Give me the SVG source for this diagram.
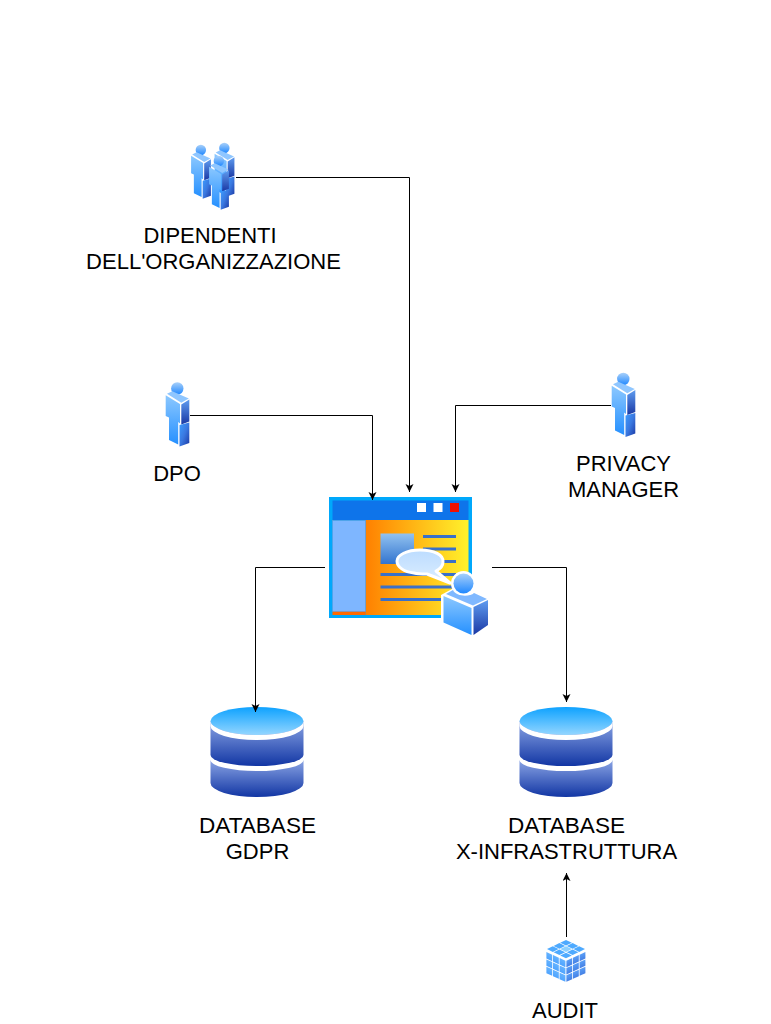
<svg xmlns="http://www.w3.org/2000/svg" xmlns:xlink="http://www.w3.org/1999/xlink" width="771" height="1024" viewBox="0 0 771 1024">
<style>
text{font-family:"Liberation Sans",Arial,sans-serif;font-size:22px;fill:#000;text-anchor:middle}
.c{fill:none;stroke:#000;stroke-width:1}
.ln{fill:#3a70c8}
.w{stroke:#fff;stroke-linejoin:round}
</style>
<defs>
<marker id="a" markerUnits="userSpaceOnUse" markerWidth="10" markerHeight="10" refX="8" refY="4" orient="auto"><path d="M0,0L8,4L0,8L2,4Z" fill="#000"/></marker>
<linearGradient id="pf" x1="0" y1="0" x2="0" y2="1"><stop offset="0" stop-color="#8cc8ff"/><stop offset="1" stop-color="#2590ff"/></linearGradient>
<linearGradient id="ph" x1="0" y1="0" x2="0" y2="1"><stop offset="0" stop-color="#a8d0fa"/><stop offset="1" stop-color="#2088ff"/></linearGradient>
<linearGradient id="ps" x1="0" y1="0" x2="0" y2="1"><stop offset="0" stop-color="#5f9cf0"/><stop offset="1" stop-color="#1a38a4"/></linearGradient>
<linearGradient id="pl" x1="0" y1="0" x2="1" y2="1"><stop offset="0" stop-color="#3c9cff"/><stop offset=".5" stop-color="#3a78e0"/><stop offset="1" stop-color="#1a38a4"/></linearGradient>
<linearGradient id="dt" x1="0" y1="0" x2="0" y2="1"><stop offset="0" stop-color="#0ea2ff"/><stop offset="1" stop-color="#94d6ff"/></linearGradient>
<linearGradient id="db" x1="0" y1="0" x2="0" y2="1"><stop offset="0" stop-color="#8aa4e4"/><stop offset="1" stop-color="#1236a4"/></linearGradient>
<linearGradient id="yo" x1="0" y1="0" x2="1" y2="0"><stop offset="0" stop-color="#ff8000"/><stop offset="1" stop-color="#fff22c"/></linearGradient>
<linearGradient id="im" x1="0" y1="0" x2="0" y2="1"><stop offset="0" stop-color="#92c2f0"/><stop offset="1" stop-color="#3274cf"/></linearGradient>
<linearGradient id="bb" x1="0" y1="0" x2="0" y2="1"><stop offset="0" stop-color="#bcdcff"/><stop offset="1" stop-color="#dceeff"/></linearGradient>
<linearGradient id="cl" gradientUnits="userSpaceOnUse" x1="0" y1="0" x2="0" y2="3"><stop offset="0" stop-color="#66b4ff"/><stop offset="1" stop-color="#1c80ff"/></linearGradient>
<linearGradient id="cr" gradientUnits="userSpaceOnUse" x1="0" y1="0" x2="0" y2="3"><stop offset="0" stop-color="#5aa0f8"/><stop offset="1" stop-color="#1a3cb8"/></linearGradient>
<g id="person">
<circle cx="12.3" cy="6" r="6.2" fill="url(#ph)"/>
<path d="M2,11.3L7.3,8.7L23.8,16L16.3,20.3Z" fill="#8fc6ff"/>
<path d="M.7,12.7L15,21.5V41L13.200,39.500V62L4,57.500V35L.7,33.500Z" fill="url(#pf)"/>
<path d="M16.3,22L24.3,17V39L16.3,42Z" fill="url(#ps)"/>
<path d="M14.500,42.500L24.300,40V60.500L14.500,64Z" fill="url(#pl)"/>
</g>
<g id="cyl">
<path d="M0,14V48a46.500,11 0 0 0 93,0V14Z" fill="url(#db)"/>
<path d="M0,53a46.500,11 0 0 0 93,0V76a46.500,14 0 0 1 -93,0Z" fill="url(#db)"/>
<ellipse cx="46.500" cy="14" rx="46.500" ry="14" fill="url(#dt)"/>
<path d="M0,14a46.500,14 0 0 0 93,0v5a46.500,14 0 0 1 -93,0Z" fill="#fff"/>
</g>
<rect id="cell" x=".06" y=".06" width=".88" height=".88"/>
</defs>

<g id="dipendenti">
<use xlink:href="#person" href="#person" transform="translate(214,143) scale(.84)"/>
<use xlink:href="#person" href="#person" transform="translate(190.500,145) scale(.84)"/>
<use xlink:href="#person" href="#person" transform="translate(208.500,156) scale(.84)"/>
<text x="210" y="243">DIPENDENTI</text>
<text x="213.500" y="269">DELL'ORGANIZZAZIONE</text>
</g>
<g id="dpo">
<use xlink:href="#person" href="#person" transform="translate(165,382.500)"/>
<text x="177" y="481">DPO</text>
</g>
<g id="privacy-manager">
<use xlink:href="#person" href="#person" transform="translate(611,373)"/>
<text x="623.500" y="471">PRIVACY</text>
<text x="623.500" y="497">MANAGER</text>
</g>

<g id="app">
<rect x="329" y="497" width="143" height="121" fill="#00a8fb"/>
<rect x="365.500" y="520" width="103" height="95" fill="url(#yo)"/>
<rect x="332.500" y="500.500" width="136" height="19.500" fill="#0e74ea"/>
<rect x="332.500" y="611" width="33" height="4" fill="#ff6a00"/>
<rect x="332.500" y="520.500" width="33" height="91" fill="#7eb6ff" stroke="#5f9ad8" stroke-width=".5"/>
<rect x="417" y="503" width="9" height="9" fill="#fff"/>
<rect x="433.500" y="503" width="9" height="9" fill="#fff"/>
<rect x="450" y="503" width="9" height="9" fill="#f01000"/>
<rect x="380.500" y="533.500" width="33.500" height="30.500" fill="url(#im)"/>
<rect class="ln" x="423" y="535" width="33" height="3"/>
<rect class="ln" x="423" y="547.500" width="33" height="3"/>
<rect class="ln" x="423" y="560" width="33" height="3"/>
<rect class="ln" x="380.500" y="573" width="75.500" height="3"/>
<rect class="ln" x="380.500" y="585.500" width="75.500" height="3"/>
<rect class="ln" x="380.500" y="598" width="75.500" height="3"/>
<path class="w" stroke-width="3" fill="url(#bb)" d="M420,550C434,550 444,555 443,562C443,566 440,569 436,571L450,583L427,574C422,574 418,574 414,573C404,572 397,567 397,561C397,555 407,550 420,550Z"/>
<path fill="#fff" d="M441,595L452,589H474L490,598.500V626L473,637L441,623Z"/>
<circle cx="463.500" cy="583.500" r="12.500" fill="#fff"/>
<circle cx="463.500" cy="583.500" r="10" fill="url(#ph)"/>
<path d="M446,594L453,590C456,597 470,597 474,593L487,599L473,605.500Z" fill="#7fb8ff"/>
<path d="M443.500,596L471.500,608V635L443.500,622.500Z" fill="url(#pf)"/>
<path d="M473.500,607L488,600V625L473.500,635Z" fill="url(#ps)"/>
</g>

<g id="database-gdpr">
<use xlink:href="#cyl" href="#cyl" transform="translate(210.500,707)"/>
<text x="257.500" y="833" textLength="117" lengthAdjust="spacingAndGlyphs">DATABASE</text>
<text x="257.500" y="859">GDPR</text>
</g>
<g id="database-x">
<use xlink:href="#cyl" href="#cyl" transform="translate(519.500,707)"/>
<text x="566.500" y="833" textLength="117" lengthAdjust="spacingAndGlyphs">DATABASE</text>
<text x="566.500" y="859">X-INFRASTRUTTURA</text>
</g>

<g id="audit">
<g fill="url(#cl)" transform="matrix(6.600 3 0 7.300 546 951.500)">
<use href="#cell" x="0" y="0"/><use href="#cell" x="1" y="0"/><use href="#cell" x="2" y="0"/>
<use href="#cell" x="0" y="1"/><use href="#cell" x="1" y="1"/><use href="#cell" x="2" y="1"/>
<use href="#cell" x="0" y="2"/><use href="#cell" x="1" y="2"/><use href="#cell" x="2" y="2"/>
</g>
<g fill="url(#cr)" transform="matrix(6.600 -3 0 7.300 566 960.500)">
<use href="#cell" x="0" y="0"/><use href="#cell" x="1" y="0"/><use href="#cell" x="2" y="0"/>
<use href="#cell" x="0" y="1"/><use href="#cell" x="1" y="1"/><use href="#cell" x="2" y="1"/>
<use href="#cell" x="0" y="2"/><use href="#cell" x="1" y="2"/><use href="#cell" x="2" y="2"/>
</g>
<g fill="#4eaaff" transform="matrix(6.600 3.200 -6.600 3.200 566 939.500)">
<use href="#cell" x="0" y="0"/><use href="#cell" x="1" y="0"/><use href="#cell" x="2" y="0"/>
<use href="#cell" x="0" y="1"/><use href="#cell" x="1" y="1" fill="#8cd0ff"/><use href="#cell" x="2" y="1"/>
<use href="#cell" x="0" y="2"/><use href="#cell" x="1" y="2"/><use href="#cell" x="2" y="2"/>
</g>
<text x="565" y="1018">AUDIT</text>
</g>

<g id="connectors">
<path class="c" marker-end="url(#a)" d="M236,177.500H409.500V492"/>
<path class="c" marker-end="url(#a)" d="M190,415.500H372.500V500"/>
<path class="c" marker-end="url(#a)" d="M611,405.500H455.500V492"/>
<path class="c" marker-end="url(#a)" d="M325,567.500H255.500V712"/>
<path class="c" marker-end="url(#a)" d="M492,567.500H566.500V702"/>
<path class="c" marker-end="url(#a)" d="M566.500,937V873"/>
</g>
</svg>
